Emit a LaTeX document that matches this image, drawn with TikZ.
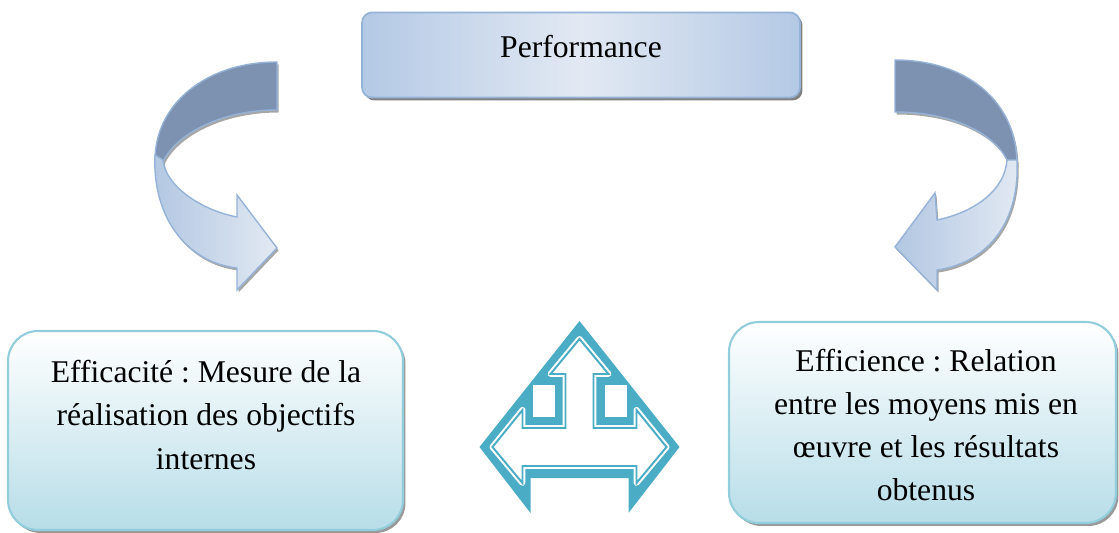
\documentclass[tikz,border=0pt]{standalone}
\usepackage{fontspec}
\setmainfont{Liberation Serif}
\frenchspacing
\usetikzlibrary{shadows}
\definecolor{perfBorder}{RGB}{149,179,215}
\definecolor{perfEdge}{RGB}{180,201,229}
\definecolor{perfMid}{RGB}{226,233,243}
\definecolor{boxBorder}{RGB}{146,205,220}
\definecolor{boxBottom}{RGB}{183,221,232}
\definecolor{arrowDark}{RGB}{125,145,177}
\definecolor{arrowLight}{RGB}{178,199,226}
\definecolor{iconTeal}{RGB}{75,172,198}

\begin{document}
\begin{tikzpicture}[x=0.02cm, y=-0.02cm,
  main box/.style={draw=perfBorder, line width=1pt, rounded corners=0.2cm,
    minimum width=8.76cm, minimum height=1.7cm,
    left color=perfEdge, right color=perfEdge, middle color=perfMid,
    drop shadow={shadow xshift=0.05cm, shadow yshift=-0.06cm, fill=black!50, opacity=1}},
  side box/.style={draw=boxBorder, line width=1.2pt, rounded corners=0.6cm,
    top color=white, bottom color=boxBottom,
    drop shadow={shadow xshift=0.05cm, shadow yshift=-0.06cm, fill=black!40, opacity=1}},
  label text/.style={align=center, font=\fontsize{18}{24.5}\selectfont},
  arrow back/.style={fill=arrowDark, draw=perfBorder, line width=0.8pt,
    drop shadow={shadow xshift=0.03cm, shadow yshift=-0.05cm, fill=black!35, opacity=1}},
  arrow front/.style={left color=arrowLight, right color=perfMid, draw=perfBorder, line width=0.8pt,
    drop shadow={shadow xshift=0.03cm, shadow yshift=-0.05cm, fill=black!35, opacity=1}},
  icon gap/.style={fill=white, draw=white, line width=3.4pt, line join=round},
  icon line/.style={draw=iconTeal, line width=1.1pt, line join=miter}]
\useasboundingbox (0,0) rectangle (1119,533);

% boxes
\node[main box] (perf) at (581,55) {};
\node[label text] (perfText) at (581,47) {Performance};
\node[side box, minimum width=7.9cm, minimum height=3.98cm] (effic) at (205.5,430.5) {};
\node[label text] (efficText) at (206,415) {Efficacité : Mesure de la\\réalisation des objectifs\\internes};
\node[side box, minimum width=7.74cm, minimum height=4.02cm] (effin) at (922.5,422.5) {};
\node[label text] (effinText) at (926,425) {Efficience : Relation\\entre les moyens mis en\\œuvre et les résultats\\obtenus};

% curved arrow, left
\draw[arrow back] (277,62) .. controls (205,62) and (155,105) .. (155,160)
  -- (163,162) .. controls (175,135) and (220,110) .. (277,110) -- cycle;
\draw[arrow front] (155,155) .. controls (152,215) and (185,262) .. (237,268)
  -- (237,290) -- (277,248) -- (237,195) -- (237,217)
  .. controls (200,210) and (165,185) .. (163,160) -- cycle;

% curved arrow, right
\draw[arrow back] (895,60) .. controls (965,60) and (1017,100) .. (1017,165)
  -- (1007,160) .. controls (995,135) and (955,112) .. (895,112) -- cycle;
\draw[arrow front] (1017,160) .. controls (1020,220) and (990,262) .. (937,270)
  -- (937,290) -- (895,247) -- (935,193) -- (937,220)
  .. controls (975,212) and (1005,190) .. (1007,160) -- cycle;

% three way arrow icon
\begin{scope}[shift={(579.5,0)}]
\fill[iconTeal] (0,321) -- (100,447) -- (49,513) -- (49,478) -- (-49,478)
  -- (-49,513) -- (-100,447) -- cycle;
\path[icon gap] (0,339) -- (29,374) -- (14,374) -- (14,428) -- (57,428) -- (57,410)
  -- (87,447) -- (57,483) -- (57,466) -- (-57,466) -- (-57,483) -- (-87,447)
  -- (-57,410) -- (-57,428) -- (-14,428) -- (-14,374) -- (-29,374) -- cycle;
\path[icon line] (0,339) -- (29,374) -- (14,374) -- (14,428) -- (57,428) -- (57,410)
  -- (87,447) -- (57,483) -- (57,466) -- (-57,466) -- (-57,483) -- (-87,447)
  -- (-57,410) -- (-57,428) -- (-14,428) -- (-14,374) -- (-29,374) -- cycle;
\fill[white] (25,385) rectangle (47,417);
\fill[white] (-47,385) rectangle (-25,417);
\end{scope}
\end{tikzpicture}
\end{document}
